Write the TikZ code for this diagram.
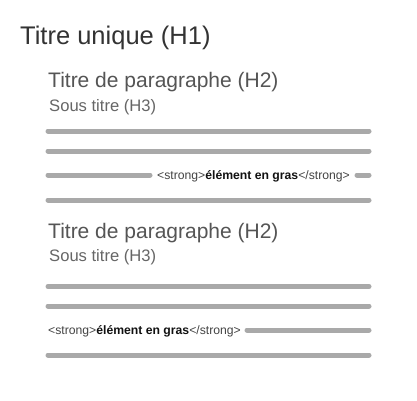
\documentclass[tikz,border=0pt]{standalone}
\usepackage{fontspec}
\setmainfont{Liberation Sans}
\definecolor{hone}{HTML}{333333}
\definecolor{htwo}{HTML}{555555}
\definecolor{hthree}{HTML}{666666}
\definecolor{barc}{HTML}{A9A9A9}
\definecolor{tagc}{HTML}{444444}
\definecolor{boldc}{HTML}{111111}
\tikzset{
  txt/.style={inner sep=0pt, anchor=base west},
  hone/.style={txt, text=hone, font=\fontsize{25.5}{30}\selectfont},
  htwo/.style={txt, text=htwo, font=\fontsize{21}{24}\selectfont},
  hthree/.style={txt, text=hthree, font=\fontsize{16.6}{18}\selectfont},
  strongtxt/.style={txt, text=tagc, font=\fontsize{12.2}{14}\selectfont},
  bar/.style={draw=barc, line width=5pt, line cap=round},
}
\newcommand{\strongel}{<strong>\textcolor{boldc}{\textbf{élément en gras}}</strong>}
\begin{document}
\begin{tikzpicture}[x=1pt,y=-1pt]
\useasboundingbox[fill=white] (0,0) rectangle (417,400);
\node[hone] (h1) at (20,44) {Titre unique (H1)};
% section 1
\node[htwo] (h2a) at (48,87) {Titre de paragraphe (H2)};
\node[hthree] (h3a) at (49,111) {Sous titre (H3)};
\coordinate (a1l) at (48,131); \coordinate (a1r) at (369,131);
\coordinate (a2l) at (48,151); \coordinate (a2r) at (369,151);
\coordinate (a3l) at (48,175); \coordinate (a3m) at (150,175);
\coordinate (a3n) at (357,175); \coordinate (a3r) at (369,175);
\coordinate (a4l) at (48,200); \coordinate (a4r) at (369,200);
\draw[bar] (a1l) -- (a1r);
\draw[bar] (a2l) -- (a2r);
\draw[bar] (a3l) -- (a3m);
\draw[bar] (a3n) -- (a3r);
\draw[bar] (a4l) -- (a4r);
\node[strongtxt] (sa) at (157,179) {\strongel};
% section 2
\node[htwo] (h2b) at (48,238) {Titre de paragraphe (H2)};
\node[hthree] (h3b) at (49,261) {Sous titre (H3)};
\coordinate (b1l) at (48,286.5); \coordinate (b1r) at (369,286.5);
\coordinate (b2l) at (48,306); \coordinate (b2r) at (369,306);
\coordinate (b3m) at (247,330); \coordinate (b3r) at (369,330);
\coordinate (b4l) at (48,355); \coordinate (b4r) at (369,355);
\draw[bar] (b1l) -- (b1r);
\draw[bar] (b2l) -- (b2r);
\draw[bar] (b3m) -- (b3r);
\draw[bar] (b4l) -- (b4r);
\node[strongtxt] (sb) at (48,334) {\strongel};
\end{tikzpicture}
\end{document}
